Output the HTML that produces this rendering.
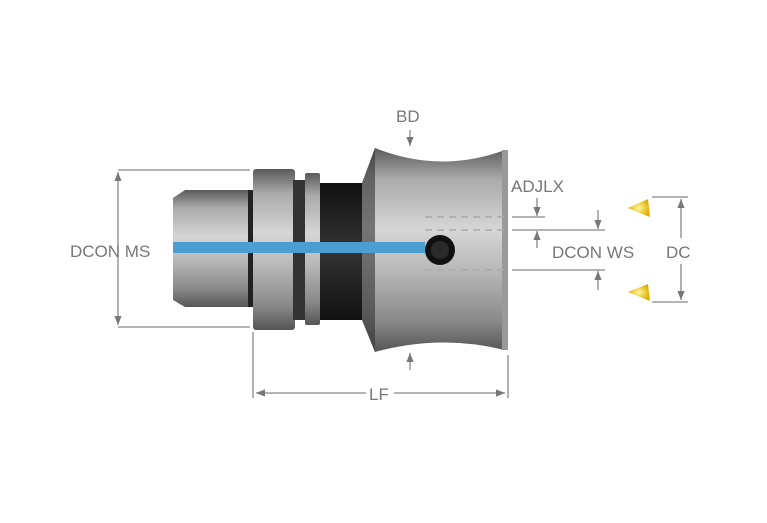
<!DOCTYPE html><html><head><style>body{margin:0;background:#fff}svg{display:block}text{font-family:"Liberation Sans",sans-serif;fill:#777;font-size:17px}</style></head><body>
<svg width="767" height="523" viewBox="0 0 767 523">
<defs>
<linearGradient id="m" x1="0" y1="0" x2="0" y2="1"><stop offset="0" stop-color="#5a5a5a"/><stop offset=".15" stop-color="#aaa"/><stop offset=".4" stop-color="#d6d6d6"/><stop offset=".6" stop-color="#b8b8b8"/><stop offset=".85" stop-color="#888"/><stop offset="1" stop-color="#555"/></linearGradient>
<linearGradient id="d" x1="0" y1="0" x2="0" y2="1"><stop offset="0" stop-color="#111"/><stop offset=".5" stop-color="#333"/><stop offset="1" stop-color="#111"/></linearGradient>
<radialGradient id="y"><stop offset="0" stop-color="#fff6a0"/><stop offset="1" stop-color="#e0b000"/></radialGradient>
<marker id="a" viewBox="0 0 10 10" refX="10" refY="5" markerWidth="7" markerHeight="7" orient="auto-start-reverse"><path d="M0,1L10,5L0,9z" fill="#777"/></marker>
</defs>
<g stroke="#888" stroke-width="1.3" fill="none">
<path d="M118,170H250M118,327H250"/>
<line x1="118" y1="172" x2="118" y2="325" marker-start="url(#a)" marker-end="url(#a)"/>
<path d="M253,332V398M508,355V398"/>
<line x1="256" y1="393" x2="505" y2="393" marker-start="url(#a)" marker-end="url(#a)"/>
<line x1="410" y1="130" x2="410" y2="146" marker-end="url(#a)"/>
<line x1="410" y1="370" x2="410" y2="353" marker-end="url(#a)"/>
<path d="M512,217H545M512,230H605M512,270H605M652,197H688M652,302H688"/>
<line x1="537" y1="198" x2="537" y2="216" marker-end="url(#a)"/>
<line x1="537" y1="248" x2="537" y2="231" marker-end="url(#a)"/>
<line x1="598" y1="210" x2="598" y2="229" marker-end="url(#a)"/>
<line x1="598" y1="290" x2="598" y2="271" marker-end="url(#a)"/>
<line x1="681" y1="199" x2="681" y2="238" marker-start="url(#a)"/>
<line x1="681" y1="264" x2="681" y2="300" marker-end="url(#a)"/>
</g>
<rect x="366" y="384" width="28" height="18" fill="#fff"/>
<rect x="320" y="183" width="45" height="137" fill="url(#d)"/>
<path d="M173,198L185,190H250V307H185L173,300Z" fill="url(#m)"/>
<rect x="248" y="190" width="6" height="117" fill="#222"/>
<rect x="253" y="169" width="42" height="161" rx="3" fill="url(#m)"/>
<rect x="293" y="180" width="12" height="140" fill="#333"/>
<rect x="305" y="173" width="15" height="152" rx="2" fill="url(#m)"/>
<path d="M362,183L375,148Q440,174 505,150V350Q440,334 375,352L362,320Z" fill="url(#m)"/>
<rect x="502" y="150" width="6" height="200" fill="#999"/>
<path d="M362,183L375,148V352L362,320Z" fill="#333" opacity=".6"/>
<g stroke="#aaa" stroke-width="1.5" stroke-dasharray="7,5"><path d="M425,217H505M425,230H505M425,270H505"/></g>
<rect x="173" y="242" width="252" height="11" fill="#4a9fd0"/>
<circle cx="440" cy="250" r="15" fill="#111"/><circle cx="440" cy="250" r="9" fill="#2a2a2a"/>
<path d="M628,208L648,199L650,217Z" fill="url(#y)"/>
<path d="M628,292L648,284L650,301Z" fill="url(#y)"/>
<text x="396" y="122">BD</text>
<text x="511" y="192">ADJLX</text>
<text x="70" y="257">DCON MS</text>
<text x="552" y="258">DCON WS</text>
<text x="666" y="258">DC</text>
<text x="369" y="400">LF</text>
</svg></body></html>
